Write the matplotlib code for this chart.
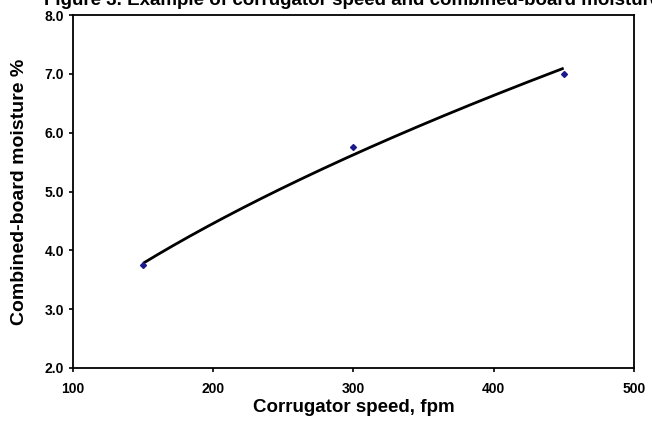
import numpy as np
import matplotlib
matplotlib.use("Agg")
import matplotlib.pyplot as plt

plt.rcParams['font.family'] = ['Liberation Sans', 'DejaVu Sans']
plt.rcParams['font.weight'] = 'bold'

# measured points
speed = [150, 300, 450]
moisture = [3.75, 5.75, 7.0]

x_ticks = [100, 200, 300, 400, 500]
y_ticks = [2.0, 3.0, 4.0, 5.0, 6.0, 7.0, 8.0]

# power trendline (like the Excel one) fitted to the points
b, ln_a = np.polyfit(np.log(speed), np.log(moisture), 1)
xs = np.linspace(min(speed), max(speed), 200)
ys = np.exp(ln_a) * xs ** b

fig = plt.figure(figsize=(6.52, 4.21), dpi=100)
ax = fig.add_axes([0.112, 0.126, 0.86, 0.838])

ax.plot(xs, ys, color='black', lw=2.0, solid_capstyle='butt')
ax.plot(speed, moisture, ls='none', marker='D', ms=3, color='#1a1a8c')

ax.set_xlim(100, 500)
ax.set_ylim(2.0, 8.0)
ax.set_xticks(x_ticks)
ax.set_xticklabels([str(t) for t in x_ticks])
ax.set_yticks(y_ticks)
ax.set_yticklabels(['%.1f' % t for t in y_ticks])
ax.tick_params(direction='out', length=3, width=1.2, labelsize=10)
ax.tick_params(axis='x', pad=7)
ax.tick_params(axis='y', pad=3.5)
for s in ax.spines.values():
    s.set_linewidth(1.3)

ax.set_xlabel('Corrugator speed, fpm', fontsize=13.5, fontweight='bold', labelpad=2)
ax.set_ylabel('Combined-board moisture %', fontsize=14, fontweight='bold', labelpad=12)

fig.text(44 / 652, 1 - 5 / 421, 'Figure 3. Example of corrugator speed and combined-board moisture',
         fontsize=13.5, fontweight='bold', va='baseline', ha='left')

fig.savefig('out.png', dpi=100)
